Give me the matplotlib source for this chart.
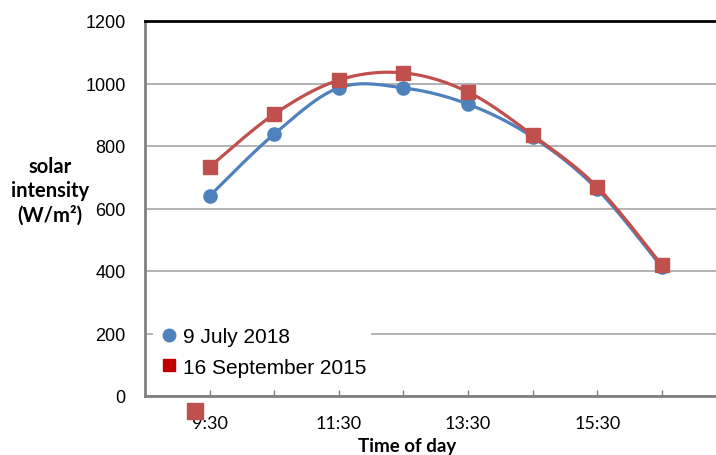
import matplotlib
matplotlib.use("Agg")
import matplotlib.pyplot as plt
from matplotlib.lines import Line2D
import numpy as np

times = ["9:30", "10:30", "11:30", "12:30", "13:30", "14:30", "15:30", "16:30"]
july_2018 = [640, 838, 986, 986, 934, 829, 662, 413]
sept_2015 = [733, 902, 1011, 1034, 973, 835, 669, 419]
shown_labels = ["9:30", "11:30", "13:30", "15:30"]
# stray legend marker left behind under the axis in the original
stray_x = [-0.23]
stray_y = [-48]

BLUE = "#4F81BD"
RED = "#C0504D"


def smooth(xs, ys, n=30, t=1 / 6):  # bezier smoothing like excel
    xs = np.asarray(xs, float)
    ys = np.asarray(ys, float)
    px, py = [], []
    for i in range(len(xs) - 1):
        x0, y0 = (xs[i - 1], ys[i - 1]) if i > 0 else (xs[i], ys[i])
        x3, y3 = (xs[i + 2], ys[i + 2]) if i + 2 < len(xs) else (xs[i + 1], ys[i + 1])
        x1, y1 = xs[i], ys[i]
        x2, y2 = xs[i + 1], ys[i + 1]
        c1 = (x1 + (x2 - x0) * t, y1 + (y2 - y0) * t)
        c2 = (x2 - (x3 - x1) * t, y2 - (y3 - y1) * t)
        s = np.linspace(0, 1, n)
        bx = (1 - s) ** 3 * x1 + 3 * (1 - s) ** 2 * s * c1[0] + 3 * (1 - s) * s ** 2 * c2[0] + s ** 3 * x2
        by = (1 - s) ** 3 * y1 + 3 * (1 - s) ** 2 * s * c1[1] + 3 * (1 - s) * s ** 2 * c2[1] + s ** 3 * y2
        px.extend(bx)
        py.extend(by)
    return px, py


fig = plt.figure(figsize=(7.16, 4.56), dpi=100)
ax = fig.add_axes([145 / 716, 59 / 456, 571 / 716, 375 / 456])

x = np.arange(len(times))
sx, sy = smooth(x, july_2018)
ax.plot(sx, sy, color=BLUE, lw=2.3, zorder=3)
ax.plot(x, july_2018, "o", color=BLUE, ms=9.5, zorder=4)
sx, sy = smooth(x, sept_2015)
ax.plot(sx, sy, color=RED, lw=2.3, zorder=3)
ax.plot(x, sept_2015, "s", color=RED, ms=10.5, zorder=4)
ax.plot(stray_x, stray_y, "s", color=RED, ms=11, clip_on=False, zorder=5)

ax.set_xlim(-1, 7.84)
ax.set_ylim(0, 1200)
ax.set_yticks(range(0, 1201, 200))
ax.yaxis.grid(True, color="#A6A6A6", lw=1.2)
ax.set_axisbelow(True)
ax.tick_params(axis="y", length=0, pad=14, labelsize=13)
for lab in ax.get_yticklabels():
    lab.set_fontfamily("Liberation Sans")

ax.set_xticks(x)
ax.set_xticklabels([t if t in shown_labels else "" for t in times], fontfamily="Lato", fontsize=13)
ax.tick_params(axis="x", direction="in", length=4, width=1, color="#808080", pad=14)

ax.spines["left"].set_color("#808080")
ax.spines["left"].set_linewidth(2)
ax.spines["bottom"].set_color("#808080")
ax.spines["bottom"].set_linewidth(2)
ax.spines["top"].set_color("black")
ax.spines["top"].set_linewidth(2)
ax.spines["right"].set_visible(False)

handles = [Line2D([], [], marker="o", ls="", color=BLUE, ms=9),
           Line2D([], [], marker="s", ls="", color="#C00000", ms=9)]
leg = ax.legend(handles, ["9 July 2018", "16 September 2015"], loc="lower left",
                bbox_to_anchor=(-0.005, 0.01), prop={"family": "Liberation Sans", "size": 15},
                frameon=True, fancybox=False, facecolor="white", edgecolor="none",
                framealpha=1, handletextpad=0.15, labelspacing=0.55, borderpad=0.25,
                handlelength=1.05)
leg.set_zorder(6)

fig.text(50 / 716, 1 - 191 / 456, "solar\nintensity\n(W/m²)", ha="center", va="center",
         fontfamily="Lato", fontweight="bold", fontsize=14.5, linespacing=1.25)
fig.text(407 / 716, 1 - 447 / 456, "Time of day", ha="center", va="center",
         fontfamily="Lato", fontweight="bold", fontsize=13.5)

fig.savefig("out.png", dpi=100)
